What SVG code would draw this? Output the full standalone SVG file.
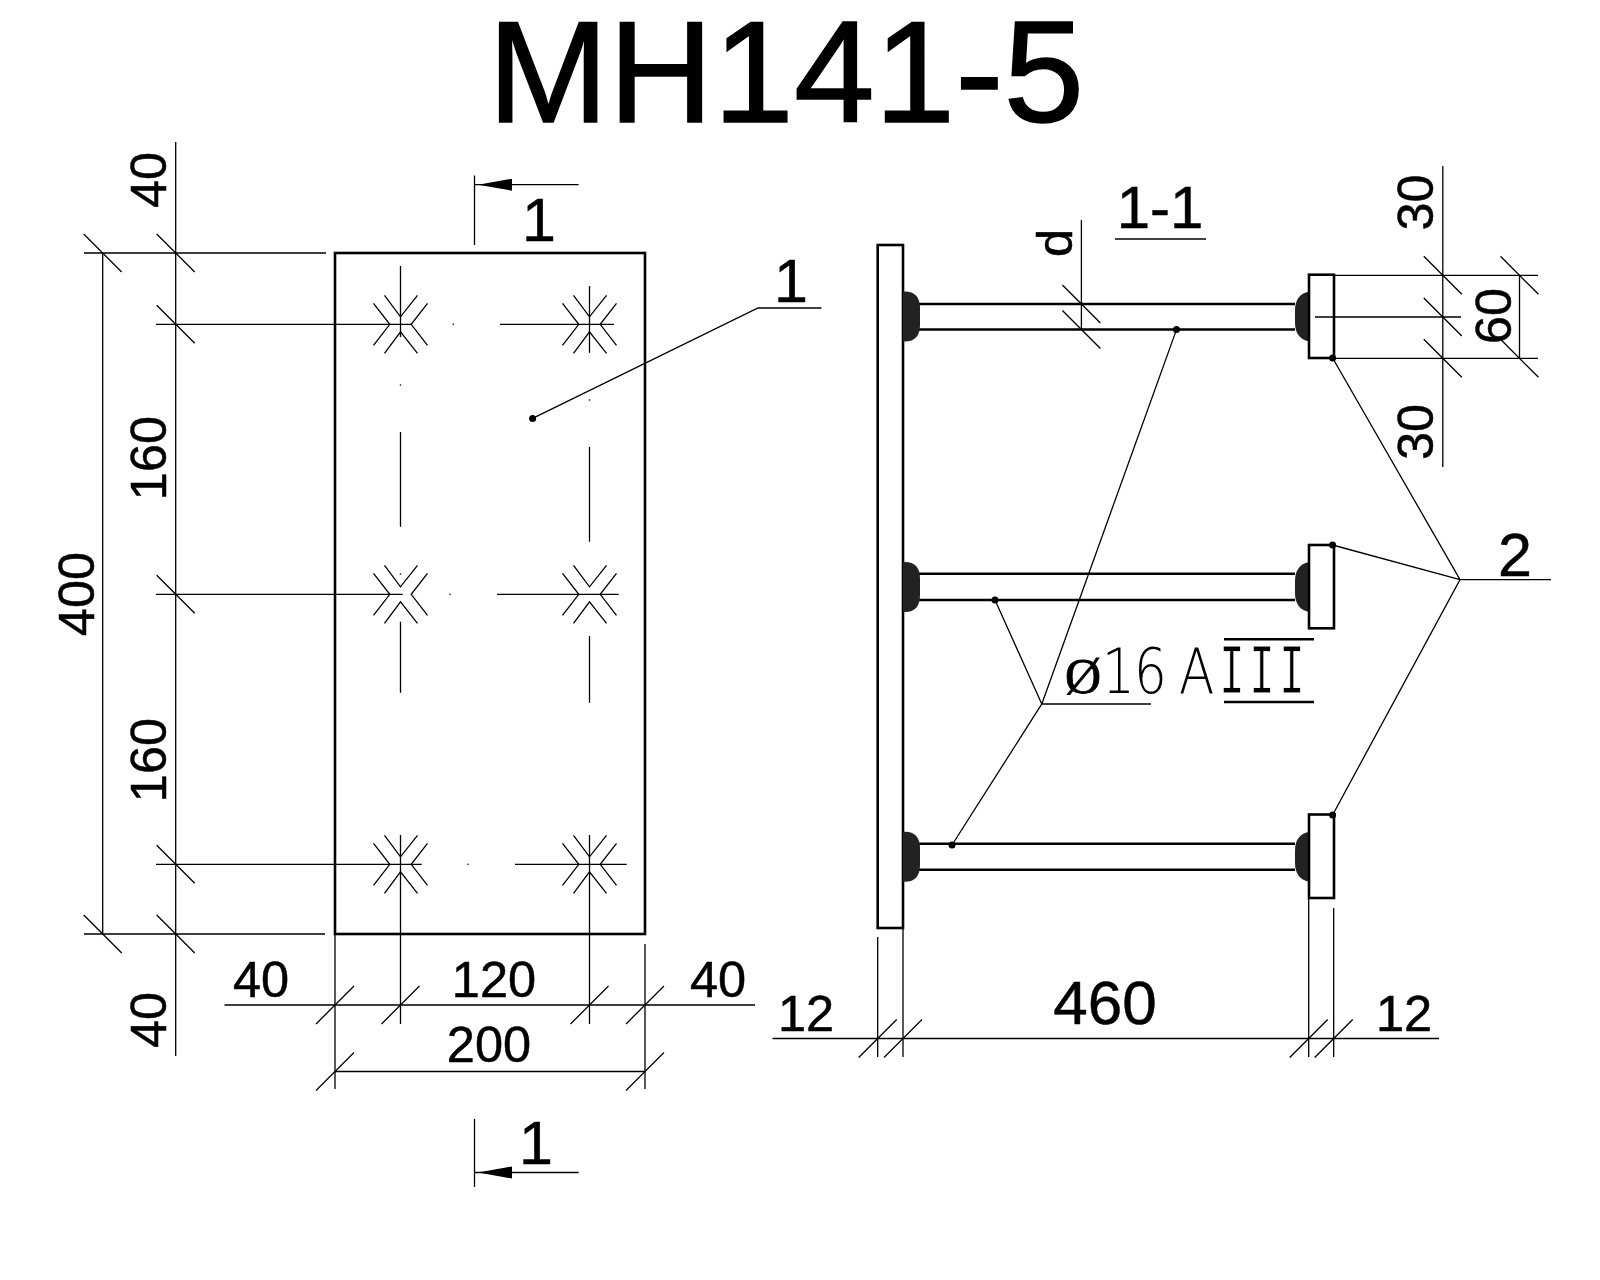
<svg xmlns="http://www.w3.org/2000/svg" xmlns:xlink="http://www.w3.org/1999/xlink" width="1600" height="1280" viewBox="0 0 1600 1280">
<style>
text{font-family:"Liberation Sans",Arial,sans-serif;fill:#000;text-anchor:middle;stroke:#000;stroke-width:.5}
.d{font-size:50.500px}.m{font-size:61px}
.t{stroke:#000;stroke-width:1.3;fill:none}
.k{stroke:#000;stroke-width:2.6;fill:none}
.p{stroke:#000;stroke-width:2.6;fill:#fff}
.w{fill:#222;stroke:none}
.dot{fill:#000;stroke:none}
</style>
<defs>
<path id="tb" class="t" d="M-19-19L19 19"/>
<path id="tf" class="t" d="M-19 19L19-19"/>
<path id="star" class="t" d="M-27-21L-10.700 0L-27 21M27-21L10.700 0L27 21M-16-29L0-7.500L17-29M-16 29L0 7.500L17 29"/>
<path id="wl" class="w" d="M0-25H2Q17-25 17-8V8Q17 25 2 25H0Z"/>
<path id="wr" class="w" d="M14-25Q0-22 0-6V6Q0 22 14 25Z"/>
<path id="ah" class="dot" d="M2 0L36-6V6Z"/>
</defs>
<rect width="1600" height="1280" fill="#fff"/>
<g id="title"><text x="786" y="122" font-size="145" style="stroke-width:1.500">MH141-5</text></g>

<g id="plate-front">
<rect class="k" x="335" y="253" width="310" height="681"/>
<g id="holes">
<use href="#star" x="400.500" y="324.300"/><use href="#star" x="589.500" y="324.300"/>
<use href="#star" x="400.500" y="594.300"/><use href="#star" x="589.500" y="594.300"/>
<use href="#star" x="400.500" y="864.300"/><use href="#star" x="589.500" y="864.300"/>
<path class="t" d="M156 324.300H411M500 324.300H614M156 594.300H402.700M497 594.300H618.700M156 864.300H421.700M515 864.300H626.700"/>
<path class="t" d="M400.500 266V337M400.500 432V526.700M400.500 621.700V692.700M400.500 835V1024M589.500 286V352.700M589.500 447V541.700M589.500 636V702.700M589.500 835V1024"/>
<g class="dot"><circle cx="453.300" cy="324.300" r=".8"/><circle cx="400.500" cy="385" r=".8"/><circle cx="589.500" cy="400" r=".8"/><circle cx="450" cy="594.300" r=".8"/><circle cx="400.500" cy="574" r=".8"/><circle cx="468" cy="864.300" r=".8"/></g>
</g>
</g>

<g id="plate-side">
<rect class="p" x="877.700" y="245" width="25.300" height="683"/>
<g id="bars" class="k"><path d="M919 304H1295M919 329.500H1295M919 573.700H1295M919 600H1295M919 843.700H1295M919 869.700H1295"/></g>
<use href="#wl" x="903" y="316.500"/><use href="#wl" x="903" y="587"/><use href="#wl" x="903" y="856.700"/>
<use href="#wr" x="1295" y="316.500"/><use href="#wr" x="1295" y="587"/><use href="#wr" x="1295" y="856.700"/>
<rect class="p" x="1309" y="274.700" width="25" height="83.300"/>
<rect class="p" x="1309" y="545" width="25" height="83.300"/>
<rect class="p" x="1309" y="814.500" width="25" height="83.500"/>
</g>

<g id="dims-left">
<path class="t" d="M175.700 142V1056M102.700 253V934M84 253H326M84 934H325"/>
<use href="#tb" x="102.700" y="253"/><use href="#tb" x="102.700" y="934"/>
<use href="#tb" x="175.700" y="253"/><use href="#tb" x="175.700" y="324.300"/><use href="#tb" x="175.700" y="594.300"/><use href="#tb" x="175.700" y="864.300"/><use href="#tb" x="175.700" y="934"/>
<text class="d" transform="translate(166 180) rotate(-90)">40</text>
<text class="d" transform="translate(166 458) rotate(-90)">160</text>
<text class="d" transform="translate(166 760) rotate(-90)">160</text>
<text class="d" transform="translate(166 1020) rotate(-90)">40</text>
<text class="d" transform="translate(94 594) rotate(-90)">400</text>
</g>

<g id="dims-bottom-left">
<path class="t" d="M224.500 1005H755M335 934V1089M645 944V1089M335 1071.500H645"/>
<use href="#tf" x="335" y="1005"/><use href="#tf" x="400.500" y="1005"/><use href="#tf" x="589.500" y="1005"/><use href="#tf" x="645" y="1005"/>
<use href="#tf" x="335" y="1071.500"/><use href="#tf" x="645" y="1071.500"/>
<text class="d" x="261" y="997">40</text>
<text class="d" x="494" y="997">120</text>
<text class="d" x="718" y="997">40</text>
<text class="d" x="489" y="1062">200</text>
</g>

<g id="section-marks">
<path class="t" d="M474.500 175.500V245M474.500 184.700H578.600M474.500 1119V1187M474.500 1172.500H578.600"/>
<use href="#ah" x="476" y="184.700"/><use href="#ah" x="476" y="1172.500"/>
<text class="m" x="539" y="241">1</text>
<text class="m" x="536" y="1164">1</text>
</g>

<g id="dims-bottom-right">
<path class="t" d="M772.500 1038.500H1439M877.700 937V1057M903 928V1057M1308.700 898V1057M1333.700 908V1057"/>
<use href="#tf" x="877.700" y="1038.500"/><use href="#tf" x="903" y="1038.500"/><use href="#tf" x="1308.700" y="1038.500"/><use href="#tf" x="1333.700" y="1038.500"/>
<text class="d" x="806" y="1031">12</text>
<text class="m" x="1105" y="1023.500" style="font-size:62px">460</text>
<text class="d" x="1404" y="1031">12</text>
</g>

<g id="dims-top-right">
<path class="t" d="M1442.800 166V467M1519.500 275.300V358.300M1334 275.300H1538M1315 317H1461M1334 358.300H1538M1081.400 220V329.500"/>
<use href="#tb" x="1442.800" y="275.300"/><use href="#tb" x="1442.800" y="317"/><use href="#tb" x="1442.800" y="358.300"/>
<use href="#tb" x="1519.500" y="275.300"/><use href="#tb" x="1519.500" y="358.300"/>
<use href="#tb" x="1081.400" y="304"/><use href="#tb" x="1081.400" y="329.500"/>
<text class="d" transform="translate(1433 202.500) rotate(-90)">30</text>
<text class="d" transform="translate(1433 432) rotate(-90)">30</text>
<text class="d" transform="translate(1511 316) rotate(-90)">60</text>
<text class="d" transform="translate(1072 243) rotate(-90)">d</text>
<text class="m" x="1160" y="228" style="font-size:60px">1-1</text>
<path class="t" d="M1115 239H1206"/>
</g>

<g id="connectors">
<path class="t" d="M532.600 418.400L758 308H821.400"/>
<circle class="dot" cx="532.600" cy="418.400" r="3.500"/>
<text class="m" x="791" y="302">1</text>
<path class="t" d="M1176.500 329.600L1041.800 704M995 600L1041.800 704M952 845L1041.800 704H1151"/>
<circle class="dot" cx="1176.500" cy="329.600" r="3.500"/><circle class="dot" cx="995" cy="600" r="3.500"/><circle class="dot" cx="952" cy="845" r="3.500"/>
<path class="t" d="M1332.600 358L1460 579.600M1332.600 545L1460 579.600M1332.600 815L1460 579.600H1551"/>
<circle class="dot" cx="1332.600" cy="358" r="3.500"/><circle class="dot" cx="1332.600" cy="545" r="3.500"/><circle class="dot" cx="1332.600" cy="815" r="3.500"/>
<text class="m" x="1515" y="576">2</text>
</g>

<g id="rebar-label">
<text x="1083" y="693.300" font-size="50" style="font-family:'Liberation Serif',serif;stroke-width:.8">Ø</text>
<g transform="translate(1102 693.300) scale(.82 1)">
<text style="font-family:'DejaVu Sans',sans-serif;font-weight:200;text-anchor:start;stroke:none" font-size="63" x="0 39 93.900">16A</text>
</g>
<g transform="translate(0 693.300) scale(.6 1)">
<text style="font-family:'Liberation Mono',monospace;stroke:#fff;stroke-width:.9" font-size="70" x="2053 2103 2153">III</text>
</g>
<path class="k" d="M1224 639.300H1314M1224 702H1314"/>
</g>
</svg>
